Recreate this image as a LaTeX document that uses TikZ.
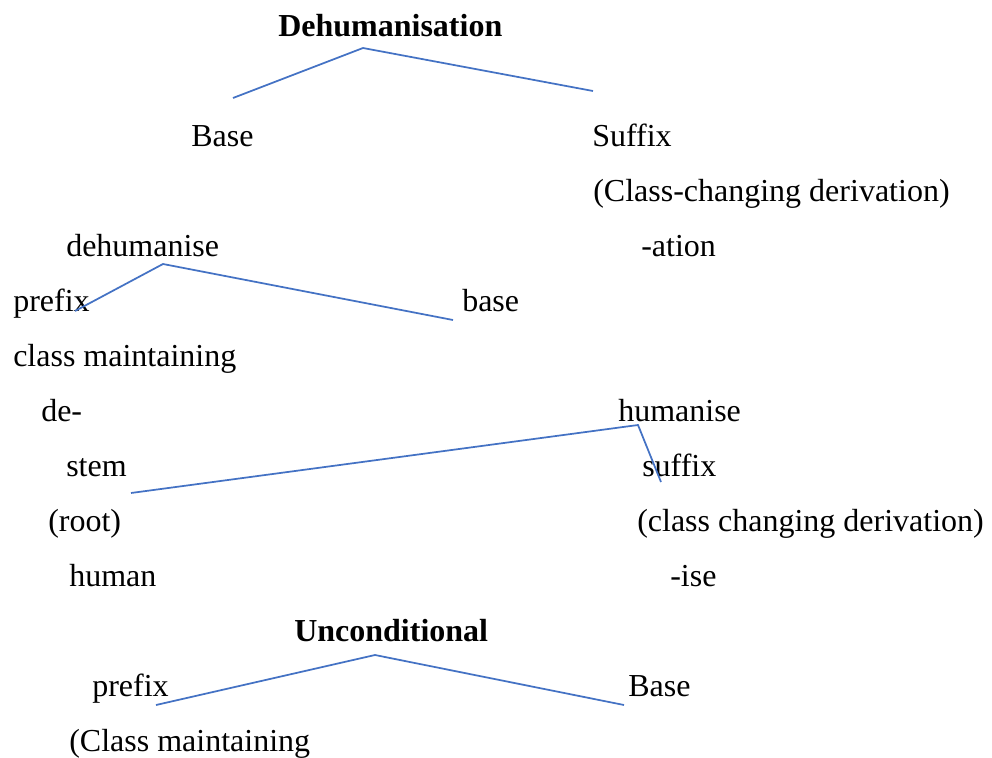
\documentclass[tikz,border=0pt]{standalone}
\usepackage{fontspec}
\setmainfont{Liberation Serif}
\begin{document}
\begin{tikzpicture}[x=0.75pt,y=-0.75pt,
  lbl/.style={anchor=base west,inner sep=0pt,font=\fontsize{24}{28}\selectfont},
  hd/.style={lbl,font=\fontsize{24}{28}\selectfont\bfseries},
  br/.style={draw={rgb,255:red,68;green,114;blue,196},line width=1.3pt,line join=miter}]
\useasboundingbox[fill=white] (0,0) rectangle (992,757);
% texts
\node[hd]  (t1)  at (278,36)  {Dehumanisation};
\node[lbl] (b1)  at (191,146) {Base};
\node[lbl] (s1)  at (592,146) {Suffix};
\node[lbl] (s1a) at (593,201) {(Class-changing derivation)};
\node[lbl] (d1)  at (66,256)  {dehumanise};
\node[lbl] (s1b) at (641,256) {-ation};
\node[lbl] (p1)  at (13,311)  {prefix};
\node[lbl] (b2)  at (462,311) {base};
\node[lbl] (p1a) at (13,366)  {class maintaining};
\node[lbl] (p1b) at (41,421)  {de-};
\node[lbl] (h1)  at (618,421) {humanise};
\node[lbl] (st)  at (66,476)  {stem};
\node[lbl] (sf)  at (642,476) {suffix};
\node[lbl] (rt)  at (48,531)  {(root)};
\node[lbl] (sfa) at (637,531) {(class changing derivation)};
\node[lbl] (hm)  at (69,586)  {human};
\node[lbl] (sfb) at (670,586) {-ise};
\node[hd]  (t2)  at (294,641) {Unconditional};
\node[lbl] (p2)  at (92,696)  {prefix};
\node[lbl] (b3)  at (628,696) {Base};
\node[lbl] (p2a) at (69,751)  {(Class maintaining};
% branch points
\coordinate (a1) at (363,48);
\coordinate (a1l) at (233,98);
\coordinate (a1r) at (593,91);
\coordinate (a2) at (163,264);
\coordinate (a2l) at (75,311);
\coordinate (a2r) at (453,320);
\coordinate (a3) at (638,425);
\coordinate (a3l) at (131,493);
\coordinate (a3r) at (661,482);
\coordinate (a4) at (375,655);
\coordinate (a4l) at (156,705);
\coordinate (a4r) at (624,705);
\draw[br] (a1l) -- (a1) -- (a1r);
\draw[br] (a2l) -- (a2) -- (a2r);
\draw[br] (a3l) -- (a3) -- (a3r);
\draw[br] (a4l) -- (a4) -- (a4r);
\end{tikzpicture}
\end{document}
